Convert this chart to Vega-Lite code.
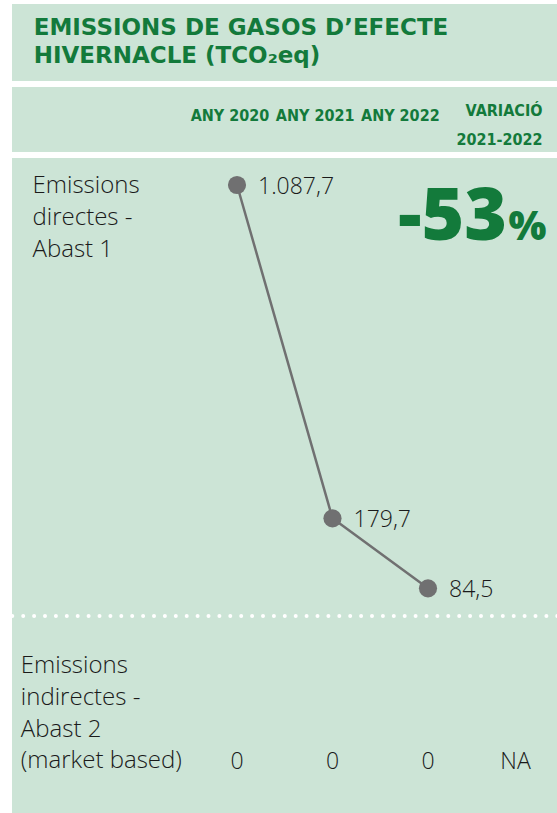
{
  "$schema": "https://vega.github.io/schema/vega-lite/v6.json",
  "background": "white",
  "padding": {"left": 10, "top": 4, "right": 0, "bottom": 0},
  "spacing": 6,
  "config": {"view": {"fill": "#cce4d6", "stroke": null}},
  "resolve": {"scale": {"x": "independent", "y": "independent"}},
  "datasets": {
    "titol": [
      {"columna": "títol", "titol": "EMISSIONS DE GASOS D’EFECTE\nHIVERNACLE (TCO₂eq)"}
    ],
    "capcalera": [
      {"any": "2020", "capcalera": "ANY 2020"},
      {"any": "2021", "capcalera": "ANY 2021"},
      {"any": "2022", "capcalera": "ANY 2022"},
      {"any": "variació", "capcalera": "VARIACIÓ\n2021-2022"}
    ],
    "concepte1": [
      {"columna": "concepte", "concepte": "Emissions\ndirectes -\nAbast 1"}
    ],
    "abast1": [
      {"any": "2020", "valor": 1087.7, "etiqueta": "1.087,7"},
      {"any": "2021", "valor": 179.7, "etiqueta": "179,7"},
      {"any": "2022", "valor": 84.5, "etiqueta": "84,5"}
    ],
    "variacio": [
      {"any": "variació", "xifra": "-53", "unitat": "%"}
    ],
    "concepte2": [
      {"columna": "concepte", "concepte": "Emissions\nindirectes -\nAbast 2\n(market based)"}
    ],
    "abast2": [
      {"any": "2020", "valor": "0"},
      {"any": "2021", "valor": "0"},
      {"any": "2022", "valor": "0"},
      {"any": "variació", "valor": "NA"}
    ],
    "separador": [
      {"separador": "Abast 1 / Abast 2"}
    ]
  },
  "vconcat": [
    {
      "width": 547,
      "height": 77,
      "data": {"name": "titol"},
      "mark": {"type": "text", "align": "left", "baseline": "alphabetic", "lineBreak": "\n", "lineHeight": 28.7, "dy": -8, "font": "DejaVu Sans", "fontWeight": "bold", "fontSize": 23, "color": "#137a3b"},
      "encoding": {
        "x": {"field": "columna", "type": "nominal", "scale": {"type": "point", "domain": ["títol"], "range": [21.7, 21.7], "padding": 0}, "axis": null},
        "text": {"field": "titol"}
      }
    },
    {
      "width": 547,
      "height": 65,
      "data": {"name": "capcalera"},
      "layer": [
        {
          "transform": [{"filter": "datum.any != 'variació'"}],
          "mark": {"type": "text", "font": "'DejaVu Sans Condensed', 'Liberation Sans Narrow', 'Roboto Condensed', Roboto, sans-serif", "fontWeight": "bold", "fontSize": 16, "color": "#137a3b", "baseline": "alphabetic", "align": "center", "dy": 1.5},
          "encoding": {
            "x": {"field": "any", "type": "nominal", "scale": {"type": "point", "domain": ["2020", "2021", "2022", "variació"], "range": [218, 473.5], "padding": 0}, "axis": null},
            "text": {"field": "capcalera"}
          }
        },
        {
          "transform": [{"filter": "datum.any == 'variació'"}],
          "mark": {"type": "text", "font": "'DejaVu Sans Condensed', 'Liberation Sans Narrow', 'Roboto Condensed', Roboto, sans-serif", "fontWeight": "bold", "fontSize": 16, "color": "#137a3b", "baseline": "alphabetic", "align": "right", "lineBreak": "\n", "lineHeight": 29, "dx": 57, "dy": -3.8},
          "encoding": {
            "x": {"field": "any", "type": "nominal", "scale": {"type": "point", "domain": ["2020", "2021", "2022", "variació"], "range": [218, 473.5], "padding": 0}, "axis": null},
            "text": {"field": "capcalera"}
          }
        }
      ]
    },
    {
      "spacing": 0,
      "resolve": {"scale": {"x": "independent", "y": "independent"}},
      "vconcat": [
        {
          "width": 547,
          "height": 456,
          "resolve": {"scale": {"x": "independent"}},
          "layer": [
            {
              "data": {"name": "concepte1"},
              "mark": {"type": "text", "align": "left", "baseline": "alphabetic", "lineBreak": "\n", "lineHeight": 31.7, "dy": -192.7, "font": "Open Sans", "fontWeight": 300, "fontSize": 24, "color": "#1a1a1a"},
              "encoding": {
                "x": {"field": "columna", "type": "nominal", "scale": {"type": "point", "domain": ["concepte"], "range": [20.5, 20.5], "padding": 0}, "axis": null},
                "text": {"field": "concepte"}
              }
            },
            {
              "data": {"name": "abast1"},
              "mark": {"type": "line", "color": "#707071", "strokeWidth": 2.5},
              "encoding": {
                "x": {"field": "any", "type": "nominal", "scale": {"type": "point", "domain": ["2020", "2021", "2022", "variació"], "range": [225, 511.5], "padding": 0}, "axis": null},
                "y": {"field": "valor", "type": "quantitative", "scale": {"domain": [84.5, 179.7, 1087.7], "range": [430.3, 360.3, 27], "zero": false, "nice": false}, "axis": null}
              }
            },
            {
              "data": {"name": "abast1"},
              "mark": {"type": "point", "filled": true, "opacity": 1, "size": 330, "color": "#707071"},
              "encoding": {
                "x": {"field": "any", "type": "nominal", "scale": {"type": "point", "domain": ["2020", "2021", "2022", "variació"], "range": [225, 511.5], "padding": 0}, "axis": null},
                "y": {"field": "valor", "type": "quantitative", "axis": null}
              }
            },
            {
              "data": {"name": "abast1"},
              "mark": {"type": "text", "align": "left", "baseline": "middle", "dx": 21, "dy": 2, "font": "Open Sans", "fontWeight": 300, "fontSize": 23, "color": "#1a1a1a"},
              "encoding": {
                "x": {"field": "any", "type": "nominal", "scale": {"type": "point", "domain": ["2020", "2021", "2022", "variació"], "range": [225, 511.5], "padding": 0}, "axis": null},
                "y": {"field": "valor", "type": "quantitative", "axis": null},
                "text": {"field": "etiqueta"}
              }
            },
            {
              "data": {"name": "variacio"},
              "mark": {"type": "text", "align": "right", "baseline": "alphabetic", "dx": -16.5, "dy": -146, "font": "Open Sans", "fontWeight": 800, "fontSize": 73, "color": "#137a3b"},
              "encoding": {
                "x": {"field": "any", "type": "nominal", "scale": {"type": "point", "domain": ["2020", "2021", "2022", "variació"], "range": [225, 511.5], "padding": 0}, "axis": null},
                "text": {"field": "xifra"}
              }
            },
            {
              "data": {"name": "variacio"},
              "mark": {"type": "text", "align": "left", "baseline": "alphabetic", "dx": -15, "dy": -146, "font": "Open Sans", "fontWeight": 800, "fontSize": 40, "color": "#137a3b"},
              "encoding": {
                "x": {"field": "any", "type": "nominal", "scale": {"type": "point", "domain": ["2020", "2021", "2022", "variació"], "range": [225, 511.5], "padding": 0}, "axis": null},
                "text": {"field": "unitat"}
              }
            }
          ]
        },
        {
          "width": 547,
          "height": 199,
          "resolve": {"scale": {"x": "independent"}},
          "layer": [
            {
              "data": {"name": "separador"},
              "mark": {"type": "rule", "color": "white", "strokeWidth": 4, "strokeDash": [0, 10.9], "strokeCap": "round", "strokeDashOffset": -1.7},
              "encoding": {"y": {"value": 2}}
            },
            {
              "data": {"name": "concepte2"},
              "mark": {"type": "text", "align": "left", "baseline": "alphabetic", "lineBreak": "\n", "lineHeight": 31.7, "dy": -40.2, "font": "Open Sans", "fontWeight": 300, "fontSize": 24, "color": "#1a1a1a"},
              "encoding": {
                "x": {"field": "columna", "type": "nominal", "scale": {"type": "point", "domain": ["concepte"], "range": [8.8, 8.8], "padding": 0}, "axis": null},
                "text": {"field": "concepte"}
              }
            },
            {
              "data": {"name": "abast2"},
              "transform": [{"filter": "datum.any != 'variació'"}],
              "mark": {"type": "text", "align": "center", "baseline": "alphabetic", "dy": 55.8, "font": "Open Sans", "fontWeight": 300, "fontSize": 23, "color": "#1a1a1a"},
              "encoding": {
                "x": {"field": "any", "type": "nominal", "scale": {"type": "point", "domain": ["2020", "2021", "2022", "variació"], "range": [225, 511.5], "padding": 0}, "axis": null},
                "text": {"field": "valor"}
              }
            },
            {
              "data": {"name": "abast2"},
              "transform": [{"filter": "datum.any == 'variació'"}],
              "mark": {"type": "text", "align": "center", "baseline": "alphabetic", "dx": -8, "dy": 55.8, "font": "Open Sans", "fontWeight": 300, "fontSize": 23, "color": "#1a1a1a"},
              "encoding": {
                "x": {"field": "any", "type": "nominal", "scale": {"type": "point", "domain": ["2020", "2021", "2022", "variació"], "range": [225, 511.5], "padding": 0}, "axis": null},
                "text": {"field": "valor"}
              }
            }
          ]
        }
      ]
    }
  ]
}
